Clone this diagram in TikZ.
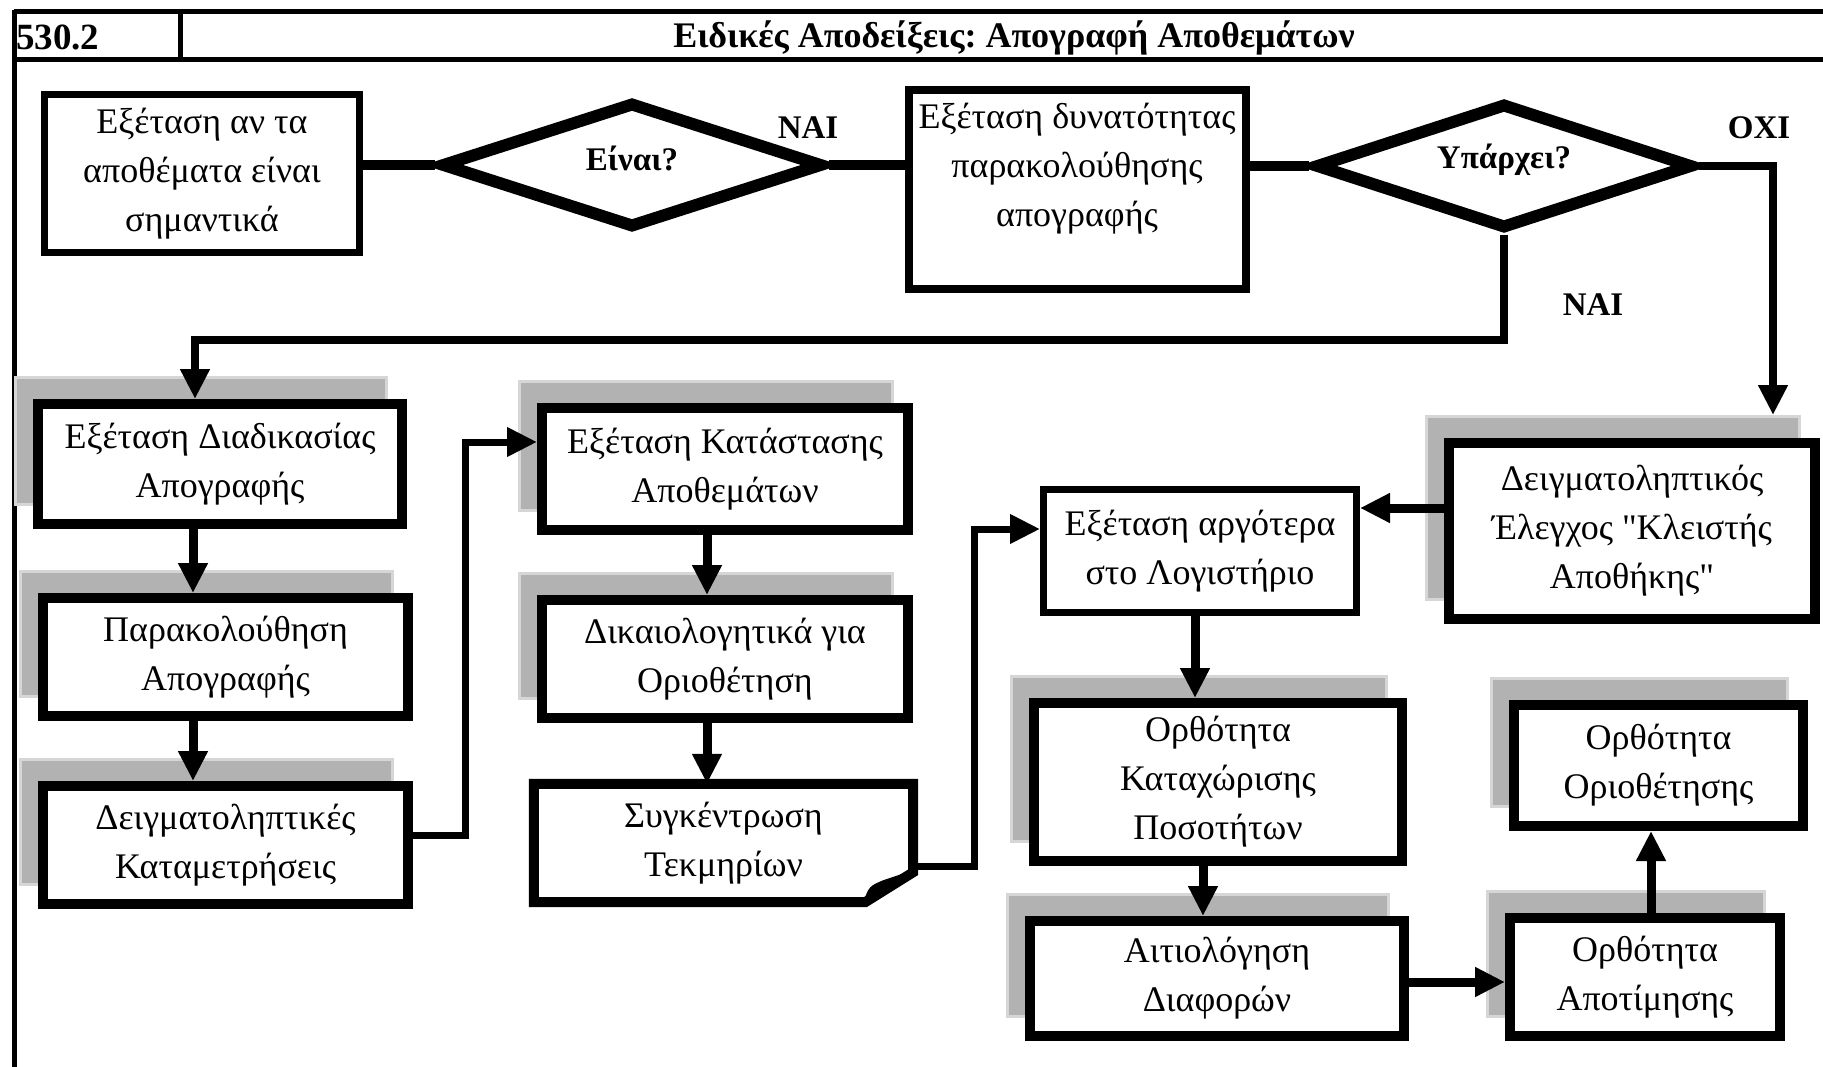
\documentclass[tikz,border=0pt]{standalone}
\usepackage{fontspec}
\setmainfont{Liberation Serif}
\newfontfamily\qfont{Liberation Serif}
\usetikzlibrary{arrows.meta,shapes.geometric,calc}
\definecolor{shadowfill}{RGB}{178,178,178}
\definecolor{shadowedge}{RGB}{214,214,214}
\frenchspacing
\newcommand\shbox[6]{%
  \node[shadowbox, minimum width=#3+7pt, minimum height=#4+7pt] (#1s) at ($#2+(-19,-23)$) {};
  \node[boldbox, minimum width=#3, minimum height=#4] (#1) at #2 {#5};}
\newcommand\dq{{\qfont"}}
\begin{document}
\begin{tikzpicture}[x=1pt,y=-1pt,
  every node/.style={font=\fontsize{36}{49}\selectfont, align=center, inner sep=0pt},
  plainbox/.style={draw, line width=7pt, fill=white},
  boldbox/.style={draw, line width=10pt, fill=white},
  shadowbox/.style={draw=shadowedge, fill=shadowfill, line width=3pt},
  decision/.style={diamond, draw, line width=12pt, fill=white, line join=miter},
  lbl/.style={font=\fontsize{33}{38}\selectfont\bfseries},
  arr/.style={line width=9pt, -{Triangle[length=30pt,width=28pt]}},
  ln/.style={line width=10pt},
  frame/.style={line width=5pt},
]
\useasboundingbox (0,0) rectangle (1823,1067);
\fill[white] (0,0) rectangle (1823,1067);

% frame and header
\draw[frame] (14,12) -- (1830,12);
\draw[frame] (14,60) -- (1830,60);
\draw[frame] (14,10) -- (14,1070);
\draw[frame] (180,12) -- (180,60);
\node[lbl, font=\fontsize{37}{40}\selectfont\bfseries, anchor=west] (num) at (16,37) {530.2};
\node[lbl, font=\fontsize{36}{40}\selectfont\bfseries] (title) at (1014,38) {Ειδικές Αποδείξεις: Απογραφή Αποθεμάτων};

% top row
\node[plainbox, minimum width=315pt, minimum height=158pt] (b1) at (202,173.5)
  {Εξέταση αν τα\\αποθέματα είναι\\σημαντικά};
\node[decision, minimum width=382pt, minimum height=126pt] (d1) at (632,165) {};
\node[lbl] (d1t) at (632,158) {Είναι?};
\node[plainbox, line width=8pt, minimum width=337pt, minimum height=199pt] (b4) at (1077,189.5)
  {Εξέταση δυνατότητας\\παρακολούθησης\\απογραφής\\ \mbox{}};
\node[decision, minimum width=378pt, minimum height=126pt] (d2) at (1504,166) {};
\node[lbl] (d2t) at (1504,160) {Υπάρχει?};
\node[lbl] (yes1) at (808,128) {ΝΑΙ};
\node[lbl] (no2) at (1759,128) {ΟΧΙ};
\node[lbl] (yes2) at (1593,305) {ΝΑΙ};

% left column
\shbox{A}{(220,464)}{364pt}{120pt}{Εξέταση Διαδικασίας\\Απογραφής}{}
\shbox{B}{(225.5,657)}{365pt}{118pt}{Παρακολούθηση\\Απογραφής}{}
\shbox{C}{(225.5,845)}{365pt}{118pt}{Δειγματοληπτικές\\Καταμετρήσεις}{}
% middle column
\shbox{D}{(725,469)}{366pt}{122pt}{Εξέταση Κατάστασης\\Αποθεμάτων}{}
\shbox{E}{(725,659)}{366pt}{118pt}{Δικαιολογητικά για\\Οριοθέτηση}{}
\node[minimum width=379pt, minimum height=118pt] (F) at (723.5,843) {};
\fill[white] (F.north west) rectangle (F.south east);
\draw[line width=10pt, line join=miter] (F.north west) -- (F.north east)
  -- ($(F.south east)+(0,-30)$) -- ($(F.south east)+(-48,0)$) -- (F.south west) -- cycle;
\fill ($(F.south east)+(-50,0)$) .. controls ($(F.south east)+(-44,-16)$) .. ($(F.south east)+(-30,-22)$)
  -- ($(F.south east)+(0,-32)$) -- cycle;
\node (Ft) at (F) {Συγκέντρωση\\Τεκμηρίων};
% right part
\node[plainbox, minimum width=313pt, minimum height=123pt] (G) at (1200,551)
  {Εξέταση αργότερα\\στο Λογιστήριο};
\shbox{H}{(1632,531)}{366pt}{176pt}{Δειγματοληπτικός\\Έλεγχος \dq Κλειστής\\Αποθήκης\dq}{}
\shbox{I}{(1218,782)}{368pt}{158pt}{Ορθότητα\\Καταχώρισης\\Ποσοτήτων}{}
\shbox{J}{(1217,978.5)}{374pt}{115pt}{Αιτιολόγηση\\Διαφορών}{}
\shbox{K}{(1645,977)}{270pt}{118pt}{Ορθότητα\\Αποτίμησης}{}
\shbox{L}{(1658.5,765.5)}{289pt}{121pt}{Ορθότητα\\Οριοθέτησης}{}

% top connectors
\draw[ln] (d1.west -| b1.east) -- (d1.west);
\draw[ln] (d1.east) -- (d1.east -| b4.west);
\draw[ln] (d2.west -| b4.east) -- (d2.west);
\coordinate (oxi) at (1773,166);
\draw[arr, line width=8pt] (d2.east) -- (oxi) -- (oxi |- Hs.north);
\coordinate (nai1) at (1504,340);
\coordinate (nai2) at (195,340);
\draw[arr, line width=8pt] (d2.south) -- (nai1) -- (nai2) -- (nai2 |- A.north);

% column arrows
\coordinate (colA) at (193,0);
\draw[arr] (A.south -| colA) -- (B.north -| colA);
\draw[arr] (B.south -| colA) -- (C.north -| colA);
\coordinate (cd1) at (465,835);
\coordinate (cd2) at (465,442);
\draw[arr, line width=7pt] (C.east |- cd1) -- (cd1) -- (cd2) -- (cd2 -| D.west);
\coordinate (colD) at (707,0);
\draw[arr] (D.south -| colD) -- (E.north -| colD);
\draw[arr] (E.south -| colD) -- (F.north -| colD);
\coordinate (fg1) at (974,866);
\coordinate (fg2) at (974,529);
\draw[arr, line width=7pt] (F.east |- fg1) -- (fg1) -- (fg2) -- (fg2 -| G.west);
\coordinate (hg) at (0,508);
\draw[arr] (H.west |- hg) -- (G.east |- hg);
\coordinate (colG) at (1195,0);
\draw[arr] (G.south -| colG) -- (I.north -| colG);
\coordinate (colI) at (1203,0);
\draw[arr] (I.south -| colI) -- (J.north -| colI);
\coordinate (jk) at (0,982);
\draw[arr] (J.east |- jk) -- (K.west |- jk);
\coordinate (colK) at (1651,0);
\draw[arr] (K.north -| colK) -- (L.south -| colK);
\end{tikzpicture}
\end{document}
